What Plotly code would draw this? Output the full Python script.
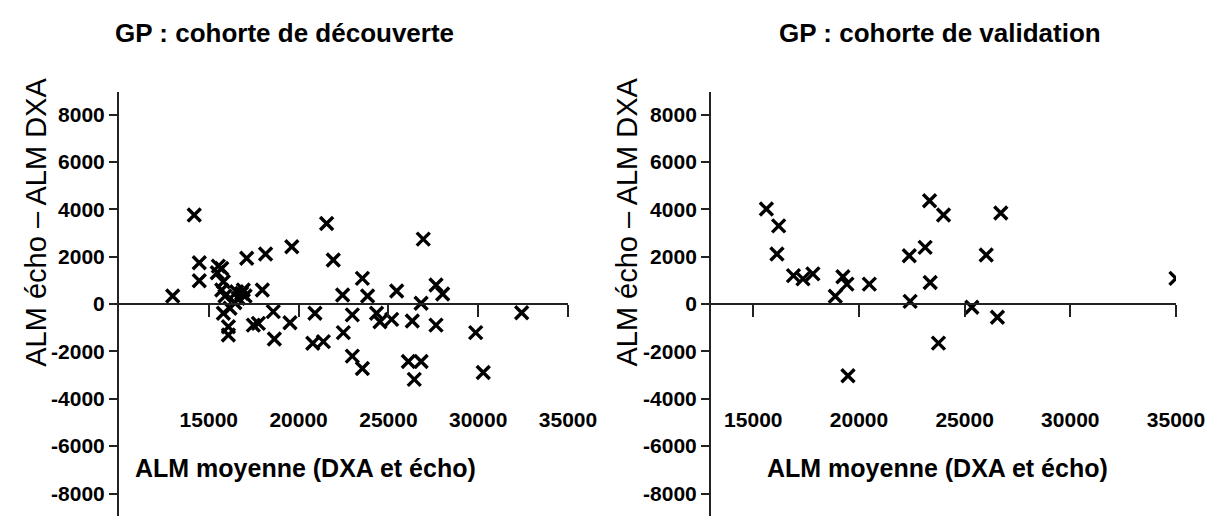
import plotly.graph_objects as go

# ---------------- data ----------------
disc_x = [12990, 14190, 14470, 14470, 15530, 15720, 15470, 15810, 15720, 15900,
          15810, 16180, 16090, 16090, 16550, 16830, 17020, 16640, 16920, 16450,
          17110, 18160, 19620, 17980, 18590, 17480, 17760, 18650, 19520, 20910,
          20790, 21380, 21560, 21930, 22450, 22990, 22490, 22990, 23550, 23550,
          23840, 24340, 24530, 25180, 25460, 26330, 26820, 26940, 26110, 26820,
          26440, 27650, 28020, 27650, 29860, 30280, 32420]
disc_y = [340, 3760, 1740, 980, 1600, 1500, 1320, 940, 590, 340,
          -390, -180, -960, -1310, 520, 450, 340, 240, 590, 50,
          1930, 2110, 2420, 590, -320, -890, -820, -1480, -790, -390,
          -1660, -1590, 3400, 1860, 380, -460, -1210, -2200, -2720, 1080,
          340, -390, -750, -650, 550, -720, 30, 2740, -2430, -2430,
          -3180, 800, 420, -890, -1210, -2890, -370]

val_x = [15620, 16200, 16120, 16900, 17350, 17820, 19240, 19430, 18880, 20490,
         19480, 22380, 22420, 23130, 23370, 23340, 24000, 23760, 26710, 26020,
         25340, 26550, 35000]
val_y = [4010, 3300, 2110, 1200, 1060, 1270, 1150, 840, 330, 840,
         -3030, 2040, 110, 2390, 910, 4360, 3760, -1650, 3840, 2070,
         -140, -560, 1080]

x_ticks = [15000, 20000, 25000, 30000, 35000]
x_ticklabels = ["15000", "20000", "25000", "30000", "35000"]
y_ticks = [8000, 6000, 4000, 2000, 0, -2000, -4000, -6000, -8000]
y_ticklabels = ["8000", "6000", "4000", "2000", "0", "-2000", "-4000", "-6000", "-8000"]

titles = ["GP : cohorte de découverte", "GP : cohorte de validation"]
x_title = "ALM moyenne (DXA et écho)"
y_title = "ALM écho \u2013 ALM DXA"

# ---------------- style ----------------
BOLD = "Liberation Sans, Arial, sans-serif"
REG = "Liberation Sans, Arial, sans-serif"
AXC = "#222222"
Y_RANGE = [-8950, 8950]

marker = dict(symbol="x-thin", size=13, color="black",
              line=dict(color="black", width=3.4))

fig = go.Figure()
for xs, ys, xa, xlab, ya in [(disc_x, disc_y, "x", "x3", "y"), (val_x, val_y, "x2", "x4", "y2")]:
    fig.add_trace(go.Scatter(x=xs, y=ys, mode="markers", marker=marker,
                             xaxis=xa, yaxis=ya, showlegend=False, hoverinfo="x+y"))
    # invisible companion trace carrying the separate tick-label axis
    fig.add_trace(go.Scatter(x=xs, y=ys, mode="markers",
                             marker=dict(opacity=0, size=1),
                             xaxis=xlab, yaxis=ya, showlegend=False, hoverinfo="skip"))

dom_left = [0.0, 0.4248]
dom_right = [0.5601, 1.0]

def line_axis(rng, dom):
    return dict(domain=dom, range=rng, anchor="free", position=0.5,
                showline=True, linecolor=AXC, linewidth=2,
                ticks="outside", ticklen=12, tickwidth=2, tickcolor=AXC,
                tickvals=x_ticks, showticklabels=False,
                showgrid=False, zeroline=False, fixedrange=True)

def label_axis(rng, over):
    return dict(overlaying=over, range=rng, anchor="free", position=0.262,
                showline=False, ticks="", tickvals=x_ticks, ticktext=x_ticklabels,
                tickfont=dict(family=BOLD, size=21, color="black", weight="bold"),
                showgrid=False, zeroline=False, fixedrange=True)

def y_axis(anchor):
    return dict(domain=[0, 1], range=Y_RANGE, anchor=anchor,
                showline=True, linecolor=AXC, linewidth=2,
                ticks="outside", ticklen=8, tickwidth=2, tickcolor=AXC,
                tickvals=y_ticks, ticktext=y_ticklabels,
                tickfont=dict(family=BOLD, size=21, color="black", weight="bold"),
                showgrid=False, zeroline=False, fixedrange=True)

# page body has an 8px default margin, so the figure is 8px smaller and margins shifted
fig.update_layout(
    width=1209, height=511,
    margin=dict(l=111, r=41, t=84, b=3),
    paper_bgcolor="white", plot_bgcolor="white",
    xaxis=line_axis([10000, 35000], dom_left),
    xaxis2=line_axis([13000, 35000], dom_right),
    xaxis3=label_axis([10000, 35000], "x"),
    xaxis4=label_axis([13000, 35000], "x2"),
    yaxis=y_axis("x"),
    yaxis2=y_axis("x2"),
)

ann = []
for tx, cx in zip(titles, [0.157, 0.7767]):
    ann.append(dict(text=tx, x=cx, y=1.139, xref="paper", yref="paper",
                    showarrow=False, xanchor="center", yanchor="middle",
                    font=dict(family=BOLD, size=26, color="black", weight="bold")))
for cx in [0.176, 0.774]:
    ann.append(dict(text=x_title, x=cx, y=0.113, xref="paper", yref="paper",
                    showarrow=False, xanchor="center", yanchor="middle",
                    font=dict(family=BOLD, size=25, color="black", weight="bold")))
for cx in [-0.078, 0.481]:
    ann.append(dict(text=y_title, x=cx, y=0.693, xref="paper", yref="paper",
                    showarrow=False, textangle=-90, xanchor="center", yanchor="middle",
                    font=dict(family=REG, size=29, color="black")))
fig.update_layout(annotations=ann)

fig.write_html("out.html")
